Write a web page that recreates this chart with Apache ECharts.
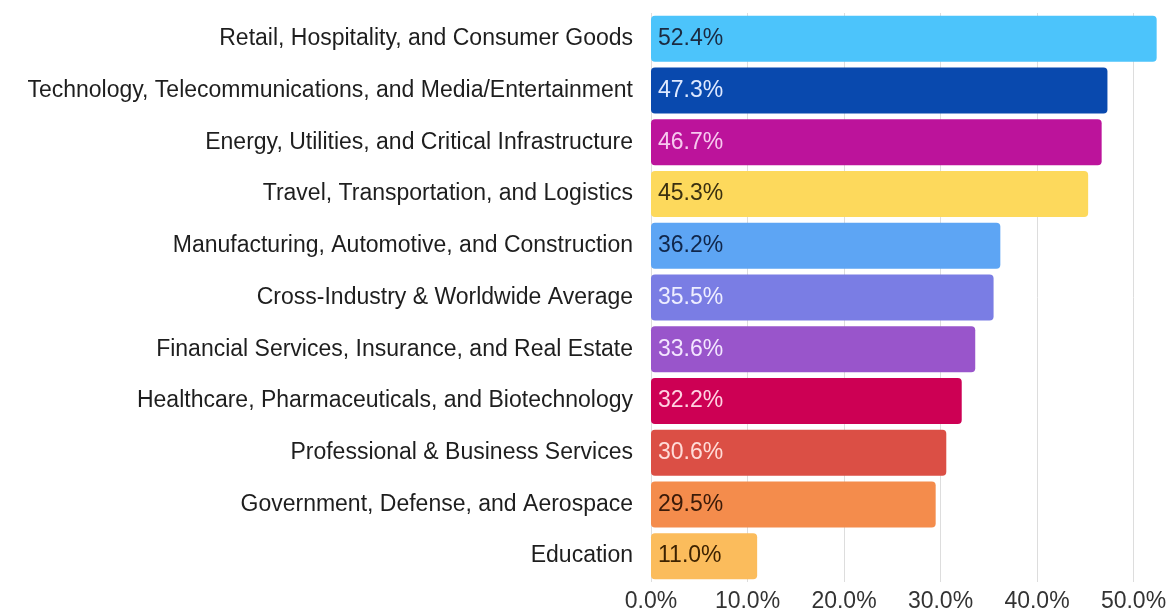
<!DOCTYPE html>
<html>
<head>
<meta charset="utf-8">
<script src="https://cdn.jsdelivr.net/npm/echarts@6/dist/echarts.min.js"></script>
<style>
  html, body { margin: 0; padding: 0; background: #ffffff; }
  #chart { width: 1168px; height: 610px; }
</style>
</head>
<body>
<div id="chart"></div>
<script>
// Industry categories, top to bottom
const industries = [
  'Retail, Hospitality, and Consumer Goods',
  'Technology, Telecommunications, and Media/Entertainment',
  'Energy, Utilities, and Critical Infrastructure',
  'Travel, Transportation, and Logistics',
  'Manufacturing, Automotive, and Construction',
  'Cross-Industry & Worldwide Average',
  'Financial Services, Insurance, and Real Estate',
  'Healthcare, Pharmaceuticals, and Biotechnology',
  'Professional & Business Services',
  'Government, Defense, and Aerospace',
  'Education'
];

// Percentage per industry
const percentages = [52.4, 47.3, 46.7, 45.3, 36.2, 35.5, 33.6, 32.2, 30.6, 29.5, 11.0];

// Bar fill colours
const barColors = [
  '#4CC4FB', '#0949AE', '#BC139B', '#FDD95C', '#5DA5F4', '#7A7DE4',
  '#9955CB', '#CD0054', '#DB4F45', '#F48C4C', '#FBBC5C'
];

// Value label colours inside each bar
const labelColors = [
  '#1b2a40', '#dfe9ff', '#f7c9ef', '#3a3010', '#10264a', '#eeeeff',
  '#f3e6ff', '#ffd3e2', '#ffdcd8', '#3a1a08', '#3d2200'
];

// Value-axis tick step
const tickStep = 10;

const FONT = 'Liberation Sans, Arial, sans-serif';

const chart = echarts.init(document.getElementById('chart'), null, { renderer: 'canvas' });

const seriesData = percentages.map((v, i) => ({
  value: v,
  itemStyle: { color: barColors[i] },
  label: { color: labelColors[i] }
}));

chart.setOption({
  animation: false,
  backgroundColor: '#ffffff',
  grid: {
    left: 651, right: -62, top: 13, bottom: 28,
    containLabel: false,
    outerBoundsMode: 'none'
  },
  xAxis: {
    type: 'value',
    min: 0,
    max: 60,
    interval: tickStep,
    axisLine: { show: false },
    axisTick: { show: false },
    splitLine: { show: true, lineStyle: { color: '#dddddd', width: 1 } },
    axisLabel: {
      margin: 8,
      color: '#333333',
      fontFamily: FONT,
      fontSize: 23,
      formatter: v => v.toFixed(1) + '%'
    }
  },
  yAxis: {
    type: 'category',
    inverse: true,
    data: industries,
    axisLine: { show: false },
    axisTick: { show: false },
    splitLine: { show: false },
    axisLabel: {
      margin: 18,
      color: '#1e1e1e',
      fontFamily: FONT,
      fontSize: 23
    }
  },
  series: [{
    type: 'bar',
    data: seriesData,
    barWidth: 46,
    itemStyle: { borderRadius: 4 },
    label: {
      show: true,
      position: 'insideLeft',
      distance: 7,
      fontFamily: FONT,
      fontSize: 23,
      formatter: p => p.value.toFixed(1) + '%'
    }
  }]
});
</script>
</body>
</html>
